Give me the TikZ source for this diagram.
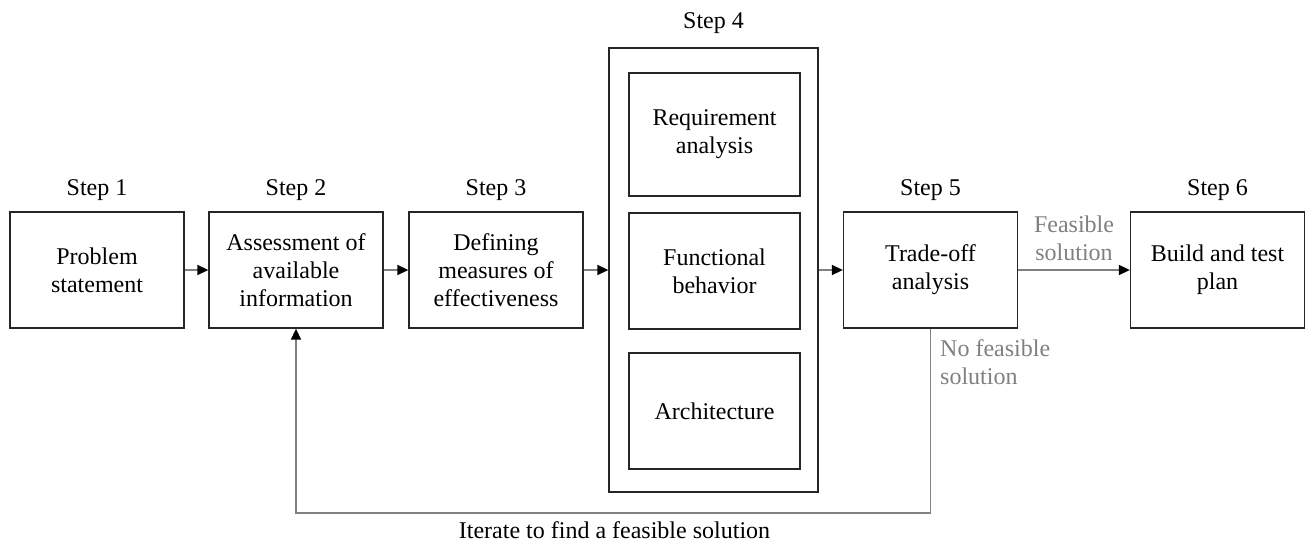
\documentclass[tikz,border=0pt]{standalone}
\usepackage{fontspec}
\setmainfont{Liberation Serif}
\usetikzlibrary{arrows.meta}
\begin{document}
\begin{tikzpicture}[x=1pt,y=-1pt,
  every node/.style={font=\fontsize{24}{28}\selectfont},
  box/.style={draw=black!85, line width=1.3pt, inner sep=0pt, align=center,
              minimum width=174pt, minimum height=116pt},
  inbox/.style={draw=black!85, line width=1.3pt, inner sep=0pt, align=center,
              minimum width=171pt},
  steplbl/.style={anchor=base, inner sep=0pt},
  conn/.style={draw=black!50, line width=1.6pt, -{Triangle[length=11pt,width=10pt,color=black]}},
  gray/.style={text=black!50, inner sep=0pt}
]
\useasboundingbox (0,0) rectangle (1306,543);

\node[box] (b1) at (97,270) {Problem\\statement};
\node[box] (b2) at (296,270) {Assessment of\\available\\information};
\node[box] (b3) at (496,270) {Defining\\measures of\\effectiveness};
\node[draw=black!85, line width=1.3pt, minimum width=209pt, minimum height=444pt, inner sep=0pt] (b4) at (713.5,270) {};
\node[inbox, minimum height=123pt] (r1) at (714.5,134.5) {Requirement\\analysis};
\node[inbox, minimum height=116pt] (r2) at (714.5,271) {Functional\\behavior};
\node[inbox, minimum height=116pt] (r3) at (714.5,411) {Architecture};
\node[box] (b5) at (930.5,270) {Trade-off\\analysis};
\node[box] (b6) at (1217.5,270) {Build and test\\plan};

\node[steplbl] (s1) at (97,195) {Step 1};
\node[steplbl] (s2) at (296,195) {Step 2};
\node[steplbl] (s3) at (496,195) {Step 3};
\node[steplbl] (s4) at (713.5,29) {Step 4};
\node[steplbl] (s5) at (930.5,195) {Step 5};
\node[steplbl] (s6) at (1217.5,195) {Step 6};

\draw[conn] (b1.east) -- (b2.west);
\draw[conn] (b2.east) -- (b3.west);
\draw[conn] (b3.east) -- (b4.west);
\draw[conn] (b4.east) -- (b5.west);
\draw[conn] (b5.east) -- (b6.west);

\coordinate (fbr) at (930.5,513);
\coordinate (fbl) at (296,513);
\draw[conn] (b5.south) -- (fbr) -- (fbl) -- (b2.south);

\node[gray, align=center, anchor=south] (feas) at (1074,261) {Feasible\\solution};
\node[gray, align=left, anchor=north west] (nofeas) at (940,339) {No feasible\\solution};
\node[anchor=base, inner sep=0pt] (iter) at (614.5,538) {Iterate to find a feasible solution};
\end{tikzpicture}
\end{document}
